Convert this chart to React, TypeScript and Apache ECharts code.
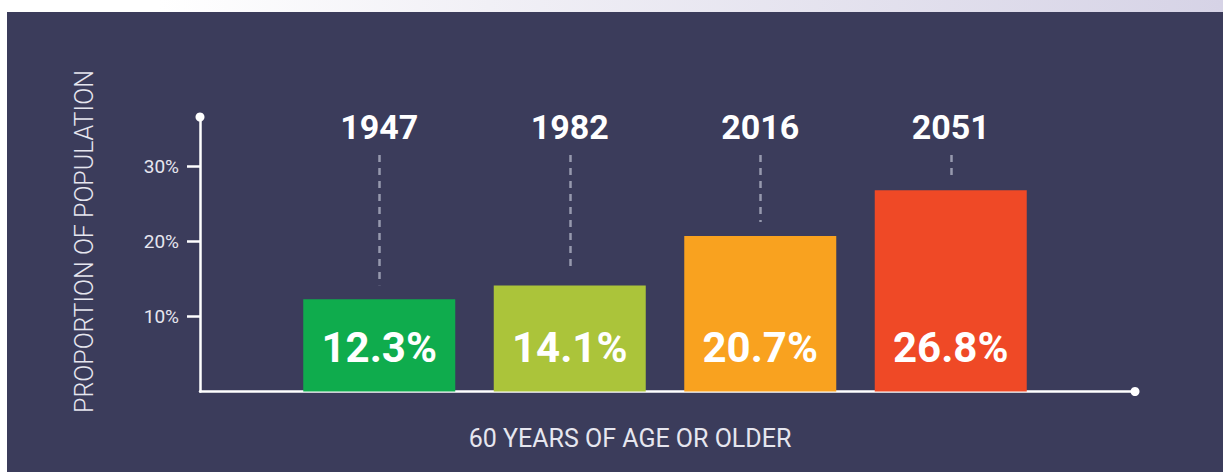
import React, { useEffect, useRef } from "react";
import * as echarts from "echarts";

const years = ["1947", "1982", "2016", "2051"];
const shares = [12.3, 14.1, 20.7, 26.8];
const barColors = ["#0fac4d", "#abc43a", "#f9a21f", "#ef4926"];
const tickValues = [10, 20, 30];
const xTitle = "60 YEARS OF AGE OR OLDER";
const yTitle = "PROPORTION OF POPULATION";

const W = 1223;
const H = 472;
const AXIS_Y = 391.5; // y of value 0
const PX_PER_UNIT = 7.51;
const FRAME_TOP = 117;
const BAR_TOP = 155;
const FRAME_MAX = (AXIS_Y - FRAME_TOP) / PX_PER_UNIT;
const BAR_MAX = (AXIS_Y - BAR_TOP) / PX_PER_UNIT;
const DASH_GAP = 14 / PX_PER_UNIT;

export default function App() {
  const ref = useRef<HTMLDivElement>(null);

  useEffect(() => {
    if (!ref.current) return;
    const chart = echarts.init(ref.current, null, { renderer: "svg" });
    const light = "#e6e6ef";
    const font = "Roboto";
    chart.setOption({
      animation: false,
      backgroundColor: "#ffffff",
      textStyle: { fontFamily: font },
      graphic: [
        {
          type: "rect",
          z: -100,
          silent: true,
          shape: { x: 0, y: 0, width: W, height: 12 },
          style: {
            fill: new echarts.graphic.LinearGradient(0, 0, 1, 0, [
              { offset: 0, color: "#ffffff" },
              { offset: 0.13, color: "#ffffff" },
              { offset: 0.4, color: "#f1f0f6" },
              { offset: 1, color: "#d6d3e6" },
            ]),
          },
        },
        {
          type: "rect",
          z: -100,
          silent: true,
          shape: { x: 7, y: 12, width: W - 7, height: H - 12 },
          style: { fill: "#3b3c5b" },
        },
        {
          type: "text",
          x: 630,
          y: 438,
          silent: true,
          style: {
            text: xTitle,
            fill: light,
            font: `400 25px ${font}`,
            align: "center",
            verticalAlign: "middle",
          },
        },
        {
          type: "text",
          x: 84,
          y: 241.5,
          rotation: Math.PI / 2,
          silent: true,
          style: {
            text: yTitle,
            fill: light,
            font: `300 25px ${font}`,
            align: "center",
            verticalAlign: "middle",
          },
        },
      ],
      grid: [
        { left: 284, right: W - 1046, top: BAR_TOP, bottom: H - AXIS_Y },
        { left: 200, right: W - 1135, top: FRAME_TOP, bottom: H - AXIS_Y },
      ],
      xAxis: [
        {
          type: "category",
          gridIndex: 0,
          data: years,
          position: "top",
          axisLine: { show: false },
          axisTick: { show: false },
          splitLine: { show: false },
          axisLabel: {
            color: "#ffffff",
            fontSize: 34,
            fontWeight: "bold",
            fontFamily: font,
            margin: 28,
            verticalAlign: "middle",
          },
        },
        {
          type: "value",
          gridIndex: 1,
          min: 0,
          max: 1,
          axisLine: {
            show: true,
            symbol: ["none", "circle"],
            symbolSize: [9, 9],
            lineStyle: { color: "#ffffff", width: 2.5 },
          },
          axisTick: { show: false },
          axisLabel: { show: false },
          splitLine: { show: false },
        },
      ],
      yAxis: [
        {
          type: "value",
          gridIndex: 0,
          min: 0,
          max: BAR_MAX,
          show: false,
          splitLine: { show: false },
        },
        {
          type: "value",
          gridIndex: 1,
          min: 0,
          max: FRAME_MAX,
          axisLine: {
            show: true,
            symbol: ["none", "circle"],
            symbolSize: [9, 9],
            lineStyle: { color: "#ffffff", width: 2.5 },
          },
          axisTick: {
            show: true,
            length: 13,
            customValues: tickValues,
            lineStyle: { color: "#ffffff", width: 2.5 },
          },
          axisLabel: {
            customValues: tickValues,
            formatter: "{value}%",
            color: light,
            fontSize: 19,
            fontFamily: font,
            margin: 21,
          },
          splitLine: { show: false },
        },
      ],
      series: [
        {
          type: "bar",
          xAxisIndex: 0,
          yAxisIndex: 0,
          barWidth: 152,
          data: shares.map((v, i) => ({ value: v, itemStyle: { color: barColors[i] } })),
          label: {
            show: true,
            position: "insideBottom",
            distance: 23,
            formatter: "{c}%",
            color: "#ffffff",
            fontSize: 42,
            fontWeight: "bold",
            fontFamily: font,
          },
          markLine: {
            silent: true,
            symbol: ["none", "none"],
            label: { show: false },
            lineStyle: { color: "#9799ae", width: 2.5, type: [7, 6] },
            data: years.map((y, i) => [
              { coord: [y, BAR_MAX] },
              { coord: [y, shares[i] + DASH_GAP] },
            ]),
          },
        },
      ],
    });
    return () => chart.dispose();
  }, []);

  return (
    <div
      ref={ref}
      style={{ position: "fixed", left: 0, top: 0, width: W, height: H }}
    />
  );
}
